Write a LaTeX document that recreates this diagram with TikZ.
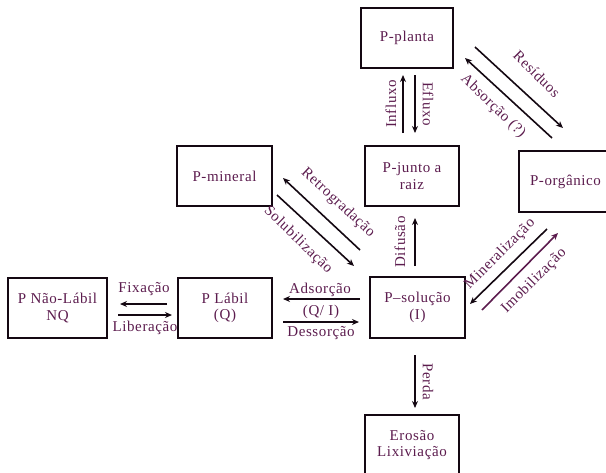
\documentclass[tikz,border=0pt]{standalone}
\usepackage{fontspec}
\setmainfont{Liberation Serif}[LetterSpace=4]
\usetikzlibrary{arrows.meta}
\definecolor{ink}{RGB}{92,28,78}
\definecolor{edge}{RGB}{20,8,18}
\tikzset{
  pool/.style={draw=edge, line width=1.8pt, inner sep=0pt, text=ink,
    align=center, font=\fontsize{15}{16.5}\selectfont},
  flow/.style={draw=edge, line width=1.6pt, -{Stealth[length=7pt,width=6pt]}},
  lbl/.style={text=ink, inner sep=0pt, font=\fontsize{15}{16}\selectfont}
}
\begin{document}
\begin{tikzpicture}[x=1pt, y=-1pt]
\useasboundingbox (0,0) rectangle (606,472);

% phosphorus pools
\node[pool, minimum width=92pt, minimum height=60pt] (planta) at (407,38) {P-planta};
\node[pool, minimum width=94pt, minimum height=60pt] (junto) at (412,176) {P-junto a\\raiz};
\node[pool, minimum width=93pt, minimum height=61pt] (organico) at (565.5,181.5) {P-orgânico};
\node[pool, minimum width=95pt, minimum height=60pt] (mineral) at (224.5,176) {P-mineral};
\node[pool, minimum width=99pt, minimum height=60pt] (naolabil) at (57.5,308) {P Não-Lábil\\NQ};
\node[pool, minimum width=94pt, minimum height=60pt] (labil) at (225,308) {P Lábil\\(Q)};
\node[pool, minimum width=95pt, minimum height=61pt] (solucao) at (417.5,307.5) {P--solução\\(I)};
\node[pool, minimum width=94pt, minimum height=60pt] (erosao) at (412,445) {Erosão\\Lixiviação};

% arrow end points
\coordinate (inA) at (403,133);  \coordinate (inB) at (403,75);
\coordinate (efA) at (415,75);   \coordinate (efB) at (415,133);
\coordinate (reA) at (475,47);   \coordinate (reB) at (563,128);
\coordinate (abA) at (552,138);  \coordinate (abB) at (465,58);
\coordinate (rtA) at (360,250);  \coordinate (rtB) at (283,178);
\coordinate (soA) at (277,195);  \coordinate (soB) at (354,266);
\coordinate (dfA) at (415,266);  \coordinate (dfB) at (415,218);
\coordinate (miA) at (547,229);  \coordinate (miB) at (470,304);
\coordinate (imA) at (482,310);  \coordinate (imB) at (558,233);
\coordinate (fxA) at (167,304);  \coordinate (fxB) at (120,304);
\coordinate (lbA) at (118,315);  \coordinate (lbB) at (172,315);
\coordinate (adA) at (360,299);  \coordinate (adB) at (283,299);
\coordinate (dsA) at (283,322);  \coordinate (dsB) at (359,322);
\coordinate (peA) at (415,355);  \coordinate (peB) at (415,408);

% fluxes
\draw[flow] (inA) -- (inB);
\draw[flow] (efA) -- (efB);
\draw[flow] (reA) -- (reB);
\draw[flow] (abA) -- (abB);
\draw[flow] (rtA) -- (rtB);
\draw[flow] (soA) -- (soB);
\draw[flow] (dfA) -- (dfB);
\draw[flow] (miA) -- (miB);
\draw[flow, draw=ink] (imA) -- (imB);
\draw[flow] (fxA) -- (fxB);
\draw[flow] (lbA) -- (lbB);
\draw[flow] (adA) -- (adB);
\draw[flow] (dsA) -- (dsB);
\draw[flow] (peA) -- (peB);

% flux labels
\node[lbl, rotate=90]  (tIn) at (391,104) {Influxo};
\node[lbl, rotate=-90] (tEf) at (428,104) {Efluxo};
\node[lbl, rotate=-45] (tRe) at (537,74) {Resíduos};
\node[lbl, rotate=-44] (tAb) at (493,106) {Absorção (?)};
\node[lbl, rotate=-43] (tRt) at (338,203) {Retrogradação};
\node[lbl, rotate=-44] (tSo) at (298,240) {Solubilização};
\node[lbl, rotate=90]  (tDf) at (400,242) {Difusão};
\node[lbl, rotate=45]  (tMi) at (500,254) {Mineralização};
\node[lbl, rotate=45]  (tIm) at (534,281) {Imobilização};
\node[lbl] (tFx) at (144,289) {Fixação};
\node[lbl] (tLb) at (145,328) {Liberação};
\node[lbl] (tAd) at (320,290) {Adsorção};
\node[lbl] (tQI) at (321,312) {(Q/ I)};
\node[lbl] (tDs) at (321,333) {Dessorção};
\node[lbl, rotate=-90] (tPe) at (428,382) {Perda};
\end{tikzpicture}
\end{document}
